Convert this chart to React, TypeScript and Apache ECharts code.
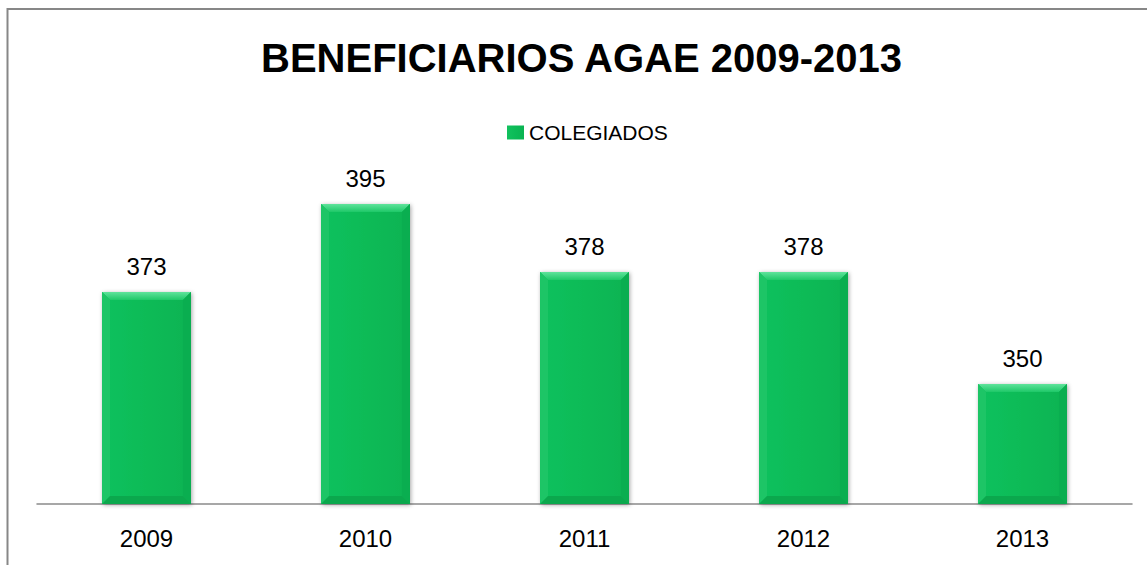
import React, { useEffect, useRef } from "react";
import * as echarts from "echarts";

const categories = ["2009", "2010", "2011", "2012", "2013"];
const colegiados = [373, 395, 378, 378, 350];
const seriesName = "COLEGIADOS";
const titleText = "BENEFICIARIOS AGAE 2009-2013";
const yMin = 320;
const yMax = 400;

const BAR_FRAC = 0.406;
const FONT = "'Liberation Sans', Arial, sans-serif";

export default function App() {
  const ref = useRef<HTMLDivElement>(null);
  useEffect(() => {
    if (!ref.current) return;
    const chart = echarts.init(ref.current, null, { renderer: "svg" });
    const bevel = 8;
    chart.setOption({
      animation: false,
      backgroundColor: "#ffffff",
      textStyle: { fontFamily: FONT },
      title: {
        text: titleText,
        left: 261,
        top: 38,
        padding: 0,
        textStyle: { fontSize: 40, fontWeight: "bold", color: "#000", fontFamily: FONT },
      },
      legend: {
        data: [{ name: seriesName, icon: "rect" }],
        top: 122,
        left: 507,
        padding: 0,
        itemWidth: 17,
        itemHeight: 14,
        itemGap: 6,
        textStyle: { fontSize: 21, color: "#000", fontFamily: FONT },
      },
      graphic: [
        {
          type: "rect",
          shape: { x: 7.5, y: 9, width: 1300, height: 700 },
          style: { fill: "none", stroke: "#878787", lineWidth: 2 },
          silent: true,
          z: 100,
        },
      ],
      grid: { left: 37, right: 15, top: 184, bottom: 61 },
      xAxis: {
        type: "category",
        data: categories,
        axisLine: { show: true, lineStyle: { color: "#8a8a8a", width: 1.5 } },
        axisTick: { show: false },
        axisLabel: { fontSize: 24, color: "#000", margin: 22, fontFamily: FONT },
      },
      yAxis: {
        type: "value",
        min: yMin,
        max: yMax,
        show: false,
        splitLine: { show: false },
      },
      series: [
        {
          name: seriesName,
          type: "bar",
          data: colegiados,
          barWidth: BAR_FRAC * 100 + "%",
          itemStyle: {
            color: {
              type: "linear",
              x: 0, y: 0, x2: 1, y2: 0,
              colorStops: [
                { offset: 0, color: "#12c15e" },
                { offset: 0.5, color: "#0cbb57" },
                { offset: 1, color: "#0ab352" },
              ],
            },
            shadowColor: "rgba(0,0,0,0.35)",
            shadowBlur: 4,
            shadowOffsetX: 1,
            shadowOffsetY: 1,
          },
          label: {
            show: true,
            position: "top",
            distance: 14,
            fontSize: 24,
            color: "#000",
            fontFamily: FONT,
          },
          z: 2,
        },
        {
          name: "bevel",
          type: "custom",
          silent: true,
          z: 3,
          data: colegiados.map((v, i) => [i, v]),
          renderItem: (params: any, api: any) => {
            const idx = api.value(0);
            const val = api.value(1);
            const top = api.coord([idx, val]);
            const base = api.coord([idx, yMin]);
            const w = api.size([1, 0])[0] * BAR_FRAC;
            const x0 = top[0] - w / 2;
            const x1 = top[0] + w / 2;
            const y0 = top[1];
            const y1 = base[1];
            const b = bevel;
            return {
              type: "group",
              children: [
                {
                  type: "polygon",
                  shape: { points: [[x0, y0], [x1, y0], [x1 - b, y0 + b], [x0 + b, y0 + b]] },
                  style: {
                    fill: {
                      type: "linear",
                      x: 0, y: 0, x2: 0, y2: 1,
                      colorStops: [
                        { offset: 0, color: "#5fe39b" },
                        { offset: 1, color: "#1ec868" },
                      ],
                    },
                  },
                },
                {
                  type: "polygon",
                  shape: { points: [[x0, y0], [x0 + b, y0 + b], [x0 + b, y1 - b], [x0, y1]] },
                  style: { fill: "#1dc566" },
                },
                {
                  type: "polygon",
                  shape: { points: [[x1, y0], [x1 - b, y0 + b], [x1 - b, y1 - b], [x1, y1]] },
                  style: { fill: "#0aae50" },
                },
                {
                  type: "polygon",
                  shape: { points: [[x0, y1], [x0 + b, y1 - b], [x1 - b, y1 - b], [x1, y1]] },
                  style: { fill: "#0ba84d" },
                },
              ],
            };
          },
        },
      ],
    });
    return () => chart.dispose();
  }, []);
  return (
    <div
      ref={ref}
      style={{ position: "absolute", left: 0, top: 0, width: 1147, height: 565 }}
    />
  );
}
